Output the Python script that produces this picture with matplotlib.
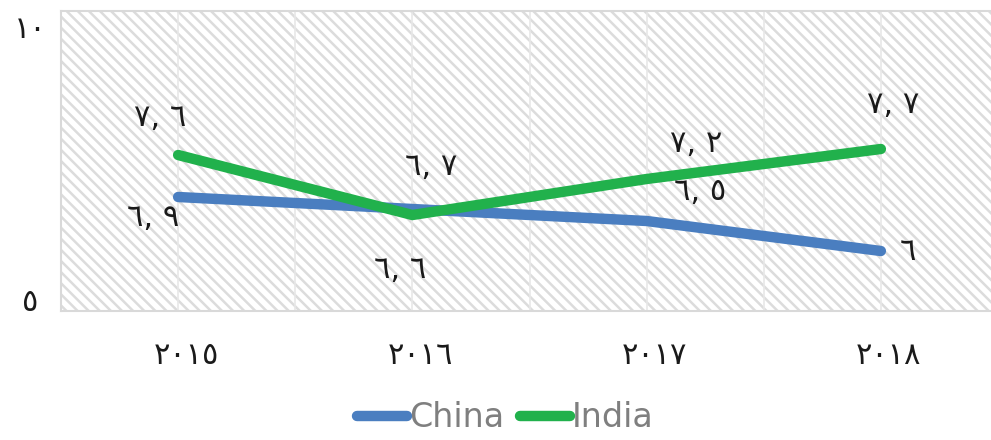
import matplotlib
matplotlib.use('Agg')
import matplotlib.pyplot as plt
from matplotlib.patches import Rectangle
from matplotlib.transforms import offset_copy

# البيانات
years = ['٢٠١٥', '٢٠١٦', '٢٠١٧', '٢٠١٨']
china = [6.9, 6.7, 6.5, 6.0]
india = [7.6, 6.6, 7.2, 7.7]
y_ticks = [5, 10]
y_tick_labels = ['٥', '١٠']

AR_DIGITS = str.maketrans('0123456789', '٠١٢٣٤٥٦٧٨٩')


def ar_label(v):
    s = ('%.1f' % v).rstrip('0').rstrip('.')
    return s.replace('.', ', ').translate(AR_DIGITS)


plt.rcParams['hatch.linewidth'] = 1.8
plt.rcParams['font.family'] = ['DejaVu Sans']

fig = plt.figure(figsize=(9.91, 4.40), dpi=100)
ax = fig.add_axes([61 / 991, 129 / 440, 937 / 991, 300 / 440])

x = list(range(len(years)))
ax.set_xlim(-0.5, 3.5)
ax.set_ylim(5, 10)

# خلفية مخططة
ax.add_patch(Rectangle((0, 0), 1, 1, transform=ax.transAxes, facecolor='white',
                       edgecolor='#dcdcdc', lw=0, hatch='\\\\\\', zorder=0))
for gx in [-0.5, 0, 0.5, 1, 1.5, 2, 2.5, 3, 3.5]:
    ax.axvline(gx, color='#e8e8e8', lw=1.2, zorder=1)

for s in ax.spines.values():
    s.set_color('#d9d9d9')
    s.set_linewidth(1.5)

ax.plot(x, china, color='#4a7ec0', lw=7.5, solid_capstyle='round',
        solid_joinstyle='miter', label='China', zorder=3)
ax.plot(x, india, color='#21b14c', lw=7.5, solid_capstyle='round',
        solid_joinstyle='miter', label='India', zorder=4)

# تسميات البيانات (إزاحة بالبكسل)
china_off = [(-25, -20), (19, 43), (53, 30), (27, 0)]
india_off = [(-18, 38), (-12, -54), (50, 36), (12, 45)]
for xi, v, (dx, dy) in zip(x, china, china_off):
    tr = offset_copy(ax.transData, fig=fig, x=dx, y=dy, units='dots')
    ax.text(xi, v, ar_label(v), transform=tr, ha='center', va='center',
            fontsize=22, color='#1a1a1a', zorder=5)
for xi, v, (dx, dy) in zip(x, india, india_off):
    tr = offset_copy(ax.transData, fig=fig, x=dx, y=dy, units='dots')
    ax.text(xi, v, ar_label(v), transform=tr, ha='center', va='center',
            fontsize=22, color='#1a1a1a', zorder=5)

ax.set_xticks(x)
ax.set_xticklabels([])
ax.set_yticks([])
ax.tick_params(length=0)
for xi, lab in zip(x, years):
    tr = offset_copy(ax.transData, fig=fig, x=8, y=-44, units='dots')
    ax.text(xi, 5, lab, transform=tr, ha='center', va='center',
            fontsize=22, color='#1a1a1a', clip_on=False)

for v, lab, dy in zip(y_ticks, y_tick_labels, [9, -18]):
    tr = offset_copy(ax.transData, fig=fig, x=-31, y=dy, units='dots')
    ax.text(-0.5, v, lab, transform=tr, ha='center', va='center',
            fontsize=22, color='#1a1a1a', clip_on=False)

fig.legend(loc='lower center', bbox_to_anchor=(0.51, -0.055), ncol=2, frameon=False,
           prop={'family': ['DejaVu Sans'], 'size': 24},
           labelcolor='#7f7f7f', handlelength=1.5, handletextpad=0.05,
           columnspacing=0.5)

fig.savefig('out.png', dpi=100)
